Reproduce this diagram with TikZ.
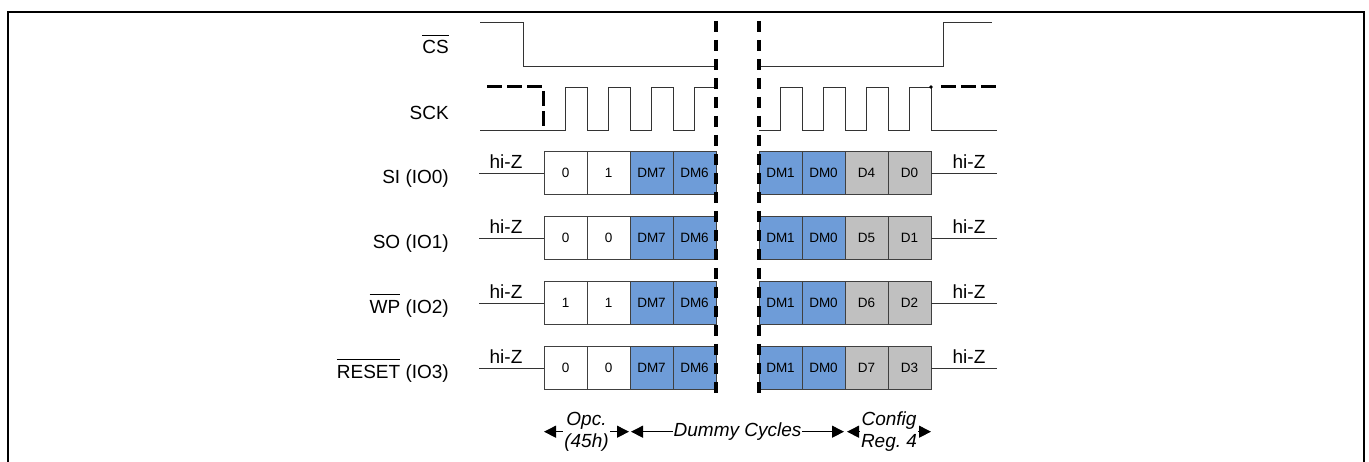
\documentclass[tikz,border=0pt]{standalone}
\usepackage{fontspec}
\setmainfont{Liberation Sans}
\usetikzlibrary{arrows.meta}
\definecolor{dmblue}{RGB}{110,156,216}
\definecolor{cgray}{RGB}{192,192,192}
\newcommand{\barred}[1]{\leavevmode\vbox{\hrule height 1.2pt\kern 5pt\hbox{#1}}}
\begin{document}
\begin{tikzpicture}[x=1pt,y=-1pt,
  sig/.style={line width=0.9pt, draw=black!80},
  cell/.style={draw=black!75, line width=0.8pt, minimum width=43pt, minimum height=43pt,
    inner sep=0pt, outer sep=0pt, font=\fontsize{13.5}{15}\selectfont},
  lab/.style={inner sep=0pt, font=\fontsize{19}{22}\selectfont},
  brk/.style={line width=3.4pt, black, dash pattern=on 11pt off 8pt},
  hdash/.style={line width=3pt, black, dash pattern=on 15pt off 5pt},
  arr/.style={line width=0.9pt, black, {Triangle[length=12pt,width=12pt]}-{Triangle[length=12pt,width=12pt]}},
  alab/.style={fill=white, inner sep=1pt, align=center, font=\fontsize{19}{21.5}\selectfont\itshape}]
\useasboundingbox (0,0) rectangle (1369,462);
% frame
\draw[line width=2pt] (8,480) -- (8,12.3) -- (1364,12.3) -- (1364,480);

% signal names
\node[lab, anchor=base east] (lcs) at (449,54) {\barred{CS}};
\node[lab, anchor=base east] (lsck) at (449,120) {SCK};
\node[lab, anchor=base east] (lsi) at (449,183.3) {SI (IO0)};
\node[lab, anchor=base east] (lso) at (449,248.3) {SO (IO1)};
\node[lab, anchor=base east] (lwp) at (449,313.3) {\barred{WP} (IO2)};
\node[lab, anchor=base east] (lrs) at (449,378.3) {\barred{RESET} (IO3)};

% CS waveform
\draw[sig] (480,22) -- (523,22) -- (523,66) -- (716,66);
\draw[sig] (759,66) -- (943,66) -- (943,22) -- (992,22);

% SCK waveform
\draw[sig] (480,130) -- (565.5,130) -- (565.5,87) -- (587,87) -- (587,130)
  -- (608.5,130) -- (608.5,87) -- (630,87) -- (630,130)
  -- (651.5,130) -- (651.5,87) -- (673,87) -- (673,130)
  -- (694.5,130) -- (694.5,87) -- (716,87);
\draw[sig] (759,130) -- (780.5,130) -- (780.5,87) -- (802,87) -- (802,130)
  -- (823.5,130) -- (823.5,87) -- (845,87) -- (845,130)
  -- (866.5,130) -- (866.5,87) -- (888,87) -- (888,130)
  -- (909.5,130) -- (909.5,87) -- (931,87) -- (931,130) -- (997,130);
\draw[hdash] (487,87) -- (543,87) -- (543,130);
\fill (931,87) circle (1.8pt);
\draw[hdash] (941,87) -- (999,87);

% data rows
\foreach \r/\y/\a/\b/\c/\d in {si/173/0/1/D4/D0, so/238/0/0/D5/D1, wp/303/1/1/D6/D2, rs/368/0/0/D7/D3}{
  \node[cell, fill=white]  (\r1) at (565.5,\y) {\a};
  \node[cell, fill=white]  (\r2) at (608.5,\y) {\b};
  \node[cell, fill=dmblue] (\r3) at (651.5,\y) {DM7};
  \node[cell, fill=dmblue] (\r4) at (694.5,\y) {DM6};
  \node[cell, fill=dmblue] (\r5) at (780.5,\y) {DM1};
  \node[cell, fill=dmblue] (\r6) at (823.5,\y) {DM0};
  \node[cell, fill=cgray]  (\r7) at (866.5,\y) {\c};
  \node[cell, fill=cgray]  (\r8) at (909.5,\y) {\d};
  \coordinate (\r-L) at (479,\y);
  \coordinate (\r-R) at (997,\y);
  \draw[sig] (\r-L) -- (\r1.west);
  \draw[sig] (\r8.east) -- (\r-R);
  \node[lab, anchor=base] (\r-hl) at (506,\y-4) {hi-Z};
  \node[lab, anchor=base] (\r-hr) at (969,\y-4) {hi-Z};
}

% break lines
\draw[brk] (716,21) -- (716,400);
\draw[brk] (759,21) -- (759,400);

% bottom annotations
\coordinate (a0) at (544,431.7);
\coordinate (a1) at (629,431.7);
\coordinate (a2) at (631,431.7);
\coordinate (a3) at (844,431.7);
\coordinate (a4) at (847,431.7);
\coordinate (a5) at (931,431.7);
\draw[arr] (a0) -- (a1) node[midway, alab] (opc) {Opc.\\(45h)};
\draw[arr] (a2) -- (a3) node[midway, alab] (dum) {Dummy Cycles};
\draw[arr] (a4) -- (a5) node[midway, alab] (cfg) {Config\\Reg.\ 4};
\end{tikzpicture}
\end{document}
